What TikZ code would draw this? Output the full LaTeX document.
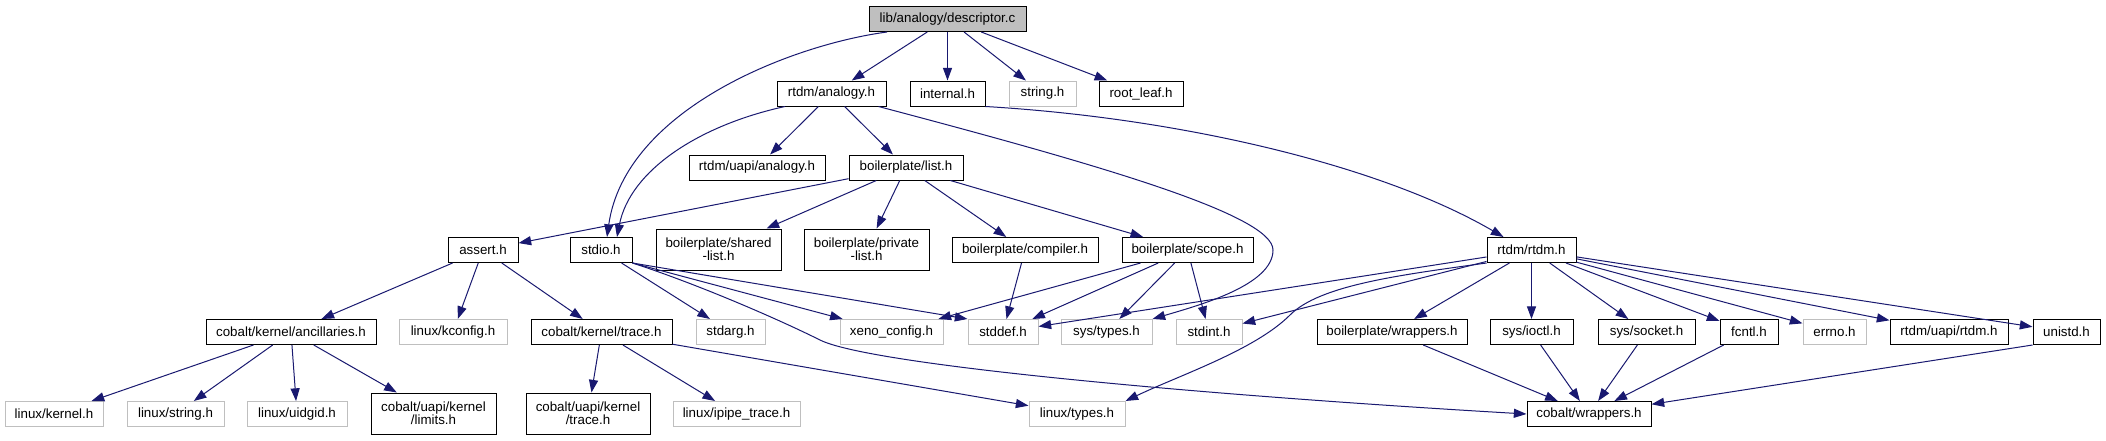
\documentclass[tikz,border=0pt]{standalone}
\usepackage{fontspec}
\setmainfont{Liberation Sans}
\usepackage{tikz}
\usetikzlibrary{arrows.meta,calc}
\definecolor{EdgeBlue}{HTML}{191970}
\definecolor{SysGray}{HTML}{BFBFBF}

\begin{document}
\begin{tikzpicture}[x=0.75pt, y=-0.75pt,
  hdr/.style={draw=black, line width=0.75pt, fill=white, inner sep=0pt,
              minimum height=18.75pt, align=center,
              font=\fontsize{10pt}{10pt}\selectfont},
  syshdr/.style={hdr, draw=SysGray},
  tallhdr/.style={hdr, minimum height=30.75pt},
  bw/.style={minimum width=#1*0.75pt},
  dep/.style={-{Triangle[length=9.5pt,width=6.8pt]}, draw=EdgeBlue, line width=0.75pt}
]
\path[fill=white] (0,0) rectangle (2106,440);

\node[hdr, bw=157, fill=SysGray] (root) at (947.5,19) {lib/analogy/descriptor.c};
\node[hdr, bw=109] (analogy) at (831.5,93.5) {rtdm/analogy.h};
\node[hdr, bw=75] (internal) at (947.5,93.5) {internal.h};
\node[syshdr, bw=67] (string) at (1042.5,93.5) {string.h};
\node[hdr, bw=84] (rootleaf) at (1141,93.5) {root\_leaf.h};
\node[hdr, bw=136] (uapianalogy) at (757,167.5) {rtdm/uapi/analogy.h};
\node[hdr, bw=114] (list) at (906,167.5) {boilerplate/list.h};
\node[hdr, bw=70] (assert) at (483,250) {assert.h};
\node[hdr, bw=62] (stdio) at (601,250) {stdio.h};
\node[tallhdr, bw=125] (sharedlist) at (718.5,249.5) {boilerplate/shared\\-list.h};
\node[tallhdr, bw=125] (privatelist) at (866.5,249.5) {boilerplate/private\\-list.h};
\node[hdr, bw=146] (compiler) at (1025,250) {boilerplate/compiler.h};
\node[hdr, bw=131] (scope) at (1187.5,250) {boilerplate/scope.h};
\node[hdr, bw=89] (rtdm) at (1531.5,250) {rtdm/rtdm.h};

\node[hdr, bw=170] (ancillaries) at (291,332) {cobalt/kernel/ancillaries.h};
\node[syshdr, bw=108] (kconfig) at (453,332) {linux/kconfig.h};
\node[hdr, bw=141] (ktrace) at (601.5,332) {cobalt/kernel/trace.h};
\node[syshdr, bw=69] (stdarg) at (730.5,332) {stdarg.h};
\node[syshdr, bw=103] (xeno) at (891.5,332) {xeno\_config.h};
\node[syshdr, bw=70] (stddef) at (1003,332) {stddef.h};
\node[syshdr, bw=91] (systypes) at (1106.5,332) {sys/types.h};
\node[syshdr, bw=66] (stdint) at (1209,332) {stdint.h};
\node[hdr, bw=150] (bpwrappers) at (1392,332) {boilerplate/wrappers.h};
\node[hdr, bw=83] (ioctl) at (1531.5,332) {sys/ioctl.h};
\node[hdr, bw=97] (socket) at (1646.5,332) {sys/socket.h};
\node[hdr, bw=58] (fcntl) at (1749,332) {fcntl.h};
\node[syshdr, bw=63] (errno) at (1834.5,332) {errno.h};
\node[hdr, bw=118] (uapirtdm) at (1949,332) {rtdm/uapi/rtdm.h};
\node[hdr, bw=67] (unistd) at (2066.5,332) {unistd.h};

\node[syshdr, bw=98] (lkernel) at (54,414) {linux/kernel.h};
\node[syshdr, bw=97] (lstring) at (175.5,414) {linux/string.h};
\node[syshdr, bw=100] (uidgid) at (297,414) {linux/uidgid.h};
\node[tallhdr, bw=125] (limits) at (433.5,413.5) {cobalt/uapi/kernel\\/limits.h};
\node[tallhdr, bw=124] (utrace) at (588,413.5) {cobalt/uapi/kernel\\/trace.h};
\node[syshdr, bw=127] (ipipe) at (736.5,414) {linux/ipipe\_trace.h};
\node[syshdr, bw=96] (ltypes) at (1077,414) {linux/types.h};
\node[hdr, bw=124] (cwrappers) at (1589,414) {cobalt/wrappers.h};

\draw[dep] (root) -- (analogy);
\draw[dep] (root) -- (internal);
\draw[dep] (root) -- (string);
\draw[dep] (root) -- (rootleaf);
\draw[dep] ($(root.south)+(-60.5,0)$) .. controls (790,45) and (625,110) .. ($(stdio.north)+(6,0)$);
\draw[dep] (analogy) -- (uapianalogy);
\draw[dep] (analogy) -- (list);
\draw[dep] ($(analogy.south)+(-46.5,0)$) .. controls (700,125) and (630,170) .. ($(stdio.north)+(16,0)$);
\draw[dep] ($(analogy.south east)+(-8,0)$) .. controls (1100,165) and (1273,215) .. (1273,250)
  .. controls (1273,285) and (1200,305) .. (systypes.north east);
\draw[dep] (internal.south east) .. controls (1180,118) and (1380,165) .. ($(rtdm.north)+(-28,0)$);
\draw[dep] (list) -- (assert);
\draw[dep] (list) -- (sharedlist);
\draw[dep] (list) -- (privatelist);
\draw[dep] (list) -- (compiler);
\draw[dep] (list) -- (scope);
\draw[dep] (assert) -- (ancillaries);
\draw[dep] (assert) -- (kconfig);
\draw[dep] (assert) -- (ktrace);
\draw[dep] (stdio) -- (stdarg);
\draw[dep] (stdio.south east) -- (xeno);
\draw[dep] (stdio.south east) -- (stddef.north west);
\draw[dep] (stdio.south east) .. controls (700,285) and (780,320) .. (820,340)
  .. controls (870,365) and (1200,395) .. (cwrappers.west);
\draw[dep] (compiler) -- (stddef);
\draw[dep] (scope) -- (xeno);
\draw[dep] (scope) -- (stddef);
\draw[dep] (scope) -- (systypes);
\draw[dep] (scope) -- (stdint);
\draw[dep] (rtdm) -- (stddef);
\draw[dep] (rtdm) -- (stdint);
\draw[dep] (rtdm.south west) .. controls (1400,275) and (1320,285) .. (1290,315)
  .. controls (1255,350) and (1180,375) .. (ltypes.north east);
\draw[dep] (rtdm) -- (bpwrappers);
\draw[dep] (rtdm) -- (ioctl);
\draw[dep] (rtdm) -- (socket);
\draw[dep] (rtdm) -- (fcntl);
\draw[dep] (rtdm) -- (errno);
\draw[dep] (rtdm) -- (uapirtdm);
\draw[dep] (rtdm) -- (unistd);
\draw[dep] (ancillaries) -- (lkernel);
\draw[dep] (ancillaries) -- (lstring);
\draw[dep] (ancillaries) -- (uidgid);
\draw[dep] (ancillaries) -- (limits);
\draw[dep] (ktrace) -- (utrace);
\draw[dep] (ktrace) -- (ipipe);
\draw[dep] (ktrace) -- (ltypes);
\draw[dep] (bpwrappers) -- (cwrappers);
\draw[dep] (ioctl) -- (cwrappers);
\draw[dep] (socket) -- (cwrappers);
\draw[dep] (fcntl) -- (cwrappers);
\draw[dep] (unistd.south west) -- (cwrappers);
\end{tikzpicture}
\end{document}
